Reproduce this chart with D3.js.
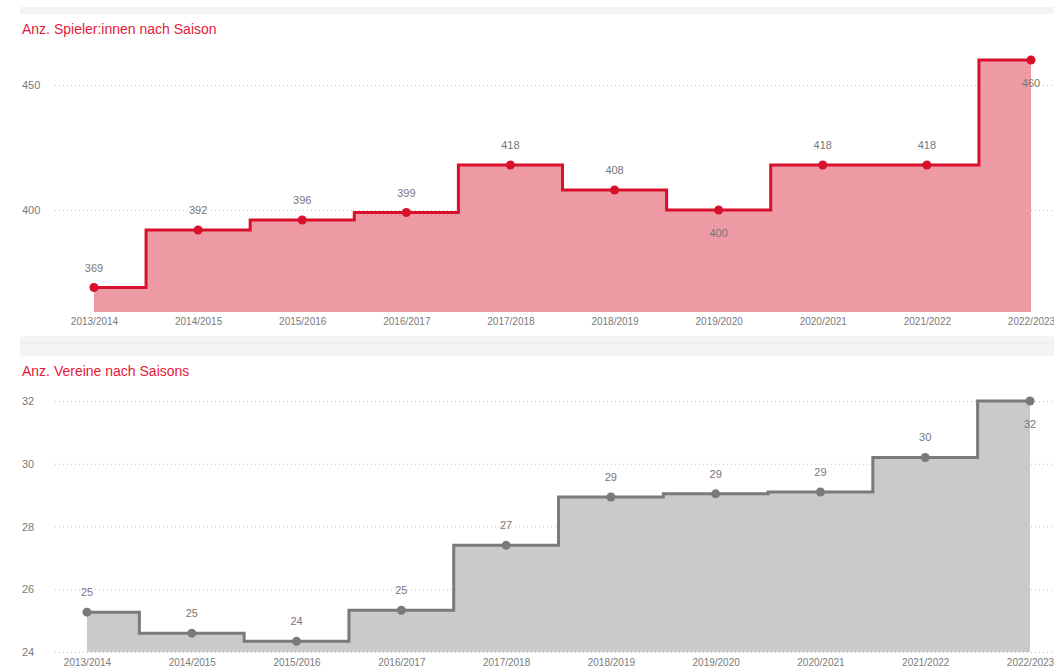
<!DOCTYPE html>
<html>
<head>
<meta charset="utf-8">
<script src="https://cdn.jsdelivr.net/npm/d3@7"></script>
<style>
  body { margin: 0; background: #fff; font-family: Arial, "Liberation Sans", sans-serif; }
  .title { fill: #e5193a; font-size: 14px; }
  .axis text { fill: #7a7a7a; font-size: 10px; }
  .y.axis text { font-size: 11px; }
  .axis .domain { display: none; }
  .grid line { stroke: #c4c4c4; stroke-dasharray: 1,3; }
  .grid .domain { display: none; }
  .lbl { fill: #777; font-size: 11px; text-anchor: middle; }
</style>
</head>
<body>
<svg id="chart" width="1054" height="672"></svg>
<script>
const seasons = ["2013/2014","2014/2015","2015/2016","2016/2017","2017/2018","2018/2019","2019/2020","2020/2021","2021/2022","2022/2023"];
const spieler = [369, 392, 396, 399, 418, 408, 400, 418, 418, 460];
const vereine = [25.27, 24.6, 24.34, 25.33, 27.4, 28.94, 29.04, 29.1, 30.2, 32];
const spielerTicks = [400, 450];
const vereineTicks = [24, 26, 28, 30, 32];

let svg = d3.select("#chart");

// card backgrounds
svg.append("rect").attr("x", 20).attr("y", 7).attr("width", 1034).attr("height", 7).attr("fill", "#f3f3f3");
svg.append("rect").attr("x", 20).attr("y", 336).attr("width", 1034).attr("height", 20).attr("fill", "#f4f4f4");
svg.append("line").attr("x1", 20).attr("x2", 1054).attr("y1", 343).attr("y2", 343).attr("stroke", "#e8e8e8");

const drawPanel = (cfg)=>{
    let g = svg.append("g");

    g.append("text").attr("class", "title")
    .attr("x", 22).attr("y", cfg.titleY)
    .text(cfg.title);

    let xScale = d3.scalePoint().domain(seasons).range(cfg.xRange);
    let yScale = d3.scaleLinear().domain(cfg.yDomain).range(cfg.yRange);

    let pts = cfg.values.map((v,i)=>[xScale(seasons[i]), yScale(v), v, i]);

    let area = d3.area()
    .curve(d3.curveStep)
    .x((d)=>d[0])
    .y0(yScale(cfg.yDomain[0]))
    .y1((d)=>d[1]);

    let line = d3.line()
    .curve(d3.curveStep)
    .x((d)=>d[0])
    .y((d)=>d[1]);

    g.append("path").datum(pts)
    .attr("d", area)
    .attr("fill", cfg.fill);

    // grid on top of the fill
    g.append("g")
    .attr("class", "grid")
    .attr("transform", "translate(55,0)")
    .call(d3.axisLeft(yScale).tickValues(cfg.ticks).tickSize(-1000).tickFormat(""));

    g.append("g")
    .attr("class", "y axis")
    .attr("transform", "translate(22,0)")
    .call(d3.axisRight(yScale).tickValues(cfg.ticks).tickSize(0).tickPadding(0));

    g.append("path").datum(pts)
    .attr("d", line)
    .attr("fill", "none")
    .attr("stroke", cfg.stroke)
    .attr("stroke-width", 3);

    g.selectAll("circle.pt")
    .data(pts)
    .enter().append("circle")
    .attr("cx", (d)=>d[0])
    .attr("cy", (d)=>d[1])
    .attr("r", 4.5)
    .attr("fill", cfg.stroke);

    g.selectAll("text.lbl")
    .data(pts)
    .enter().append("text")
    .attr("class", "lbl")
    .attr("x", (d)=>d[0])
    .attr("y", (d)=>cfg.below.includes(d[3]) ? d[1] + 27 : d[1] - 16)
    .text((d)=>d3.format(".0f")(d[2]));

    g.append("g")
    .attr("class", "x axis")
    .attr("transform", "translate(0," + cfg.xAxisY + ")")
    .call(d3.axisBottom(xScale).tickSize(0).tickPadding(0));
}

drawPanel({
    title: "Anz. Spieler:innen nach Saison",
    titleY: 34,
    values: spieler,
    ticks: spielerTicks,
    xRange: [94, 1031],
    yDomain: [359.2, 470],
    yRange: [312, 35],
    xAxisY: 318,
    fill: "#ee9aa5",
    stroke: "#d8102b",
    below: [6, 9]
});

drawPanel({
    title: "Anz. Vereine nach Saisons",
    titleY: 376,
    values: vereine,
    ticks: vereineTicks,
    xRange: [87, 1030],
    yDomain: [24, 32],
    yRange: [652, 401],
    xAxisY: 659,
    fill: "#cacaca",
    stroke: "#7a7a7a",
    below: [9]
});
</script>
</body>
</html>
